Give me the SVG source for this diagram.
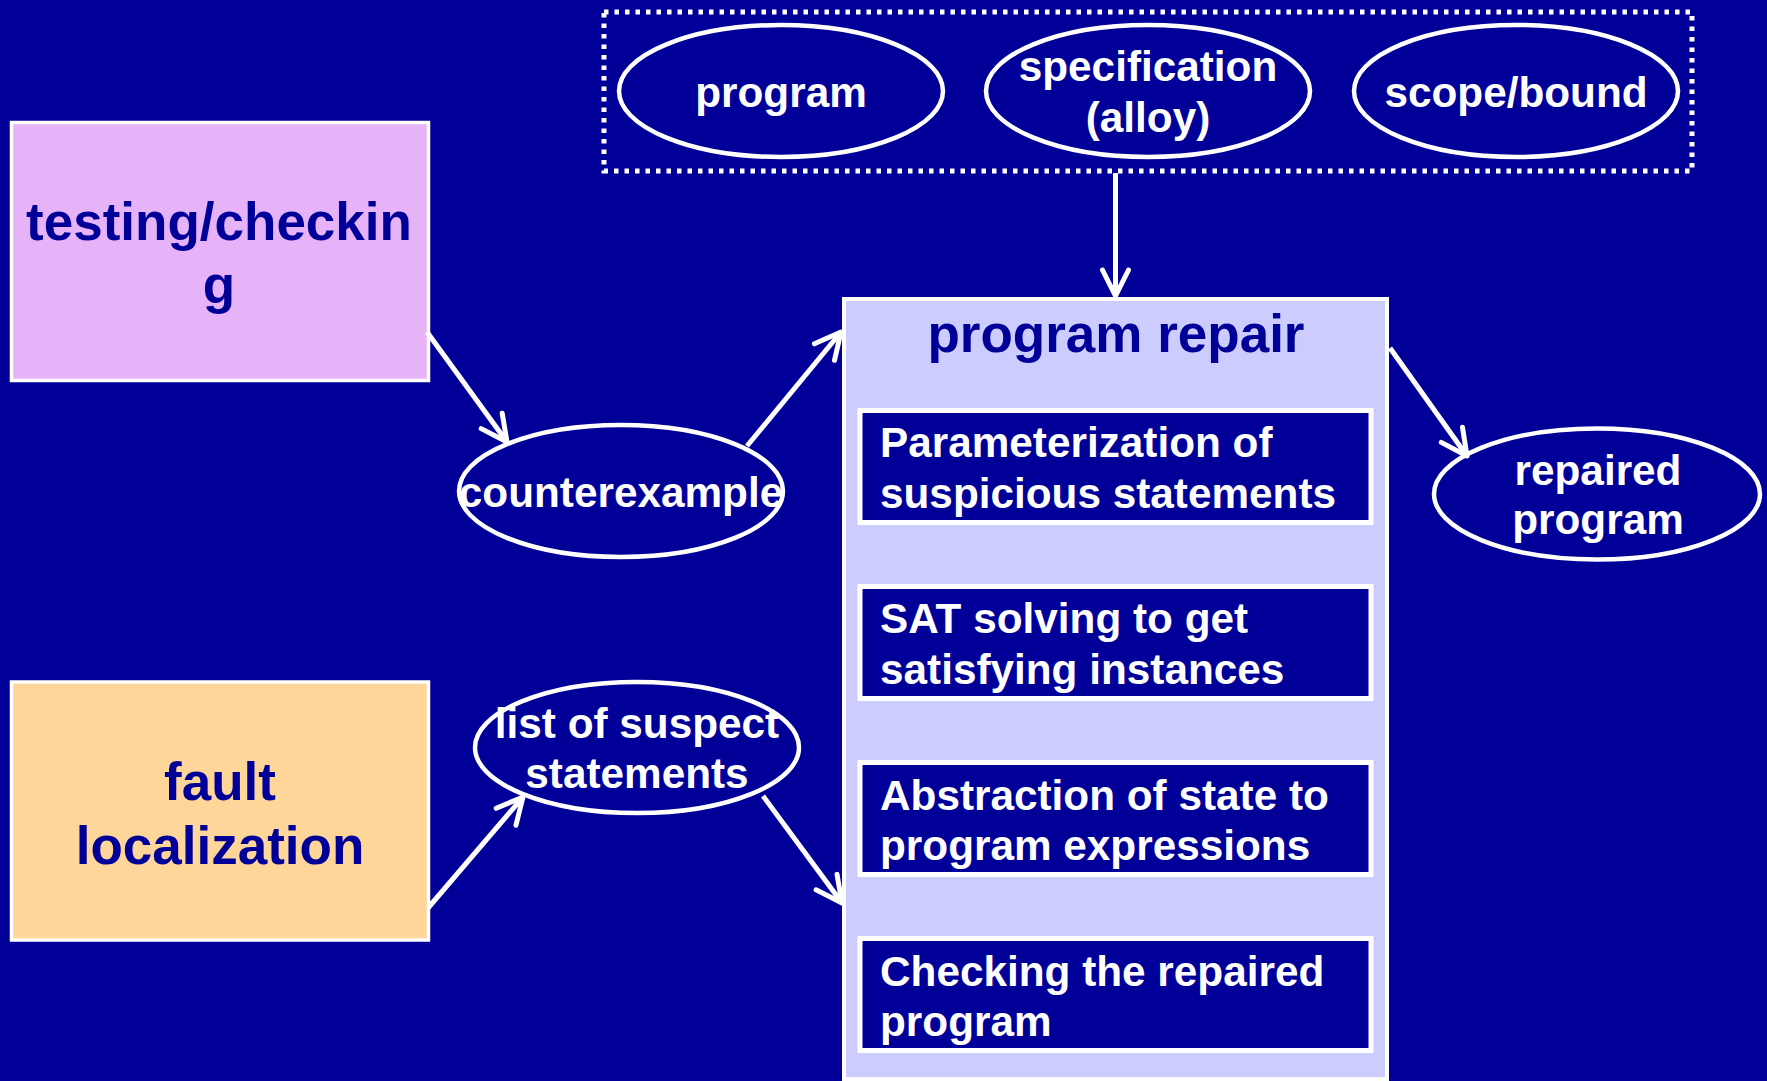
<svg xmlns="http://www.w3.org/2000/svg" width="1767" height="1081" viewBox="0 0 1767 1081">
<style>
text{font-family:"Liberation Sans",Arial,sans-serif;font-weight:bold}
.w{fill:#ffffff;font-size:42.3px}
.d{fill:#000099;font-size:53px}
.c{text-anchor:middle}
.ell{fill:#000099;stroke:#ffffff;stroke-width:4.5}
.sub{fill:#000099;stroke:#ffffff;stroke-width:5}
.conn{stroke:#ffffff;stroke-width:5;fill:none;marker-end:url(#arr)}
</style>
<defs>
<marker id="arr" markerUnits="userSpaceOnUse" markerWidth="70" markerHeight="70" viewBox="-35 -35 70 70" refX="0" refY="0" orient="auto">
<path d="M-26,-13 L0,0 L-26,13" fill="none" stroke="#ffffff" stroke-width="5" stroke-linecap="round" stroke-linejoin="round"/>
</marker>
</defs>
<rect x="0" y="0" width="1767" height="1081" fill="#000099"/>

<g id="inputs">
<rect x="604" y="12" width="1088" height="159" fill="none" stroke="#ffffff" stroke-width="5" stroke-dasharray="4.5 6"/>
</g>
<g id="program">
<ellipse class="ell" cx="781" cy="91" rx="162" ry="66"/>
<text class="w c" x="781" y="107">program</text>
</g>
<g id="specification">
<ellipse class="ell" cx="1148" cy="91" rx="162" ry="66"/>
<text class="w c" x="1148" y="81">specification</text>
<text class="w c" x="1148" y="132">(alloy)</text>
</g>
<g id="scope">
<ellipse class="ell" cx="1516" cy="91" rx="162" ry="66"/>
<text class="w c" x="1516" y="107">scope/bound</text>
</g>

<g id="testing">
<rect x="11.5" y="122.5" width="417" height="258" fill="#E6B3F9" stroke="#ffffff" stroke-width="3.5"/>
<text class="d c" x="219" y="240">testing/checkin</text>
<text class="d c" x="219" y="303">g</text>
</g>

<g id="fault">
<rect x="11.5" y="682" width="417" height="258" fill="#FFD699" stroke="#ffffff" stroke-width="3.5"/>
<text class="d c" x="220" y="800">fault</text>
<text class="d c" x="220" y="864">localization</text>
</g>

<g id="counterexample">
<ellipse class="ell" cx="621" cy="491" rx="162" ry="66"/>
<text class="w c" x="621" y="507">counterexample</text>
</g>

<g id="suspects">
<ellipse class="ell" cx="637" cy="747.5" rx="162" ry="65.5"/>
<text class="w c" x="637" y="738">list of suspect</text>
<text class="w c" x="637" y="788">statements</text>
</g>

<g id="repair">
<rect x="844" y="299" width="543" height="780" fill="#CCCCFF" stroke="#ffffff" stroke-width="4"/>
<text class="d c" x="1116" y="352">program repair</text>
<rect class="sub" x="860" y="410.5" width="511" height="112"/>
<text class="w" x="880" y="457">Parameterization of</text>
<text class="w" x="880" y="508">suspicious statements</text>
<rect class="sub" x="860" y="586.5" width="511" height="112"/>
<text class="w" x="880" y="633">SAT solving to get</text>
<text class="w" x="880" y="684">satisfying instances</text>
<rect class="sub" x="860" y="762.5" width="511" height="112"/>
<text class="w" x="880" y="810">Abstraction of state to</text>
<text class="w" x="880" y="860">program expressions</text>
<rect class="sub" x="860" y="938.5" width="511" height="112"/>
<text class="w" x="880" y="986">Checking the repaired</text>
<text class="w" x="880" y="1036">program</text>
</g>

<g id="repaired">
<ellipse class="ell" cx="1597" cy="494" rx="163" ry="65.5"/>
<text class="w c" x="1598" y="485">repaired</text>
<text class="w c" x="1598" y="534">program</text>
</g>

<g id="connectors">
<line class="conn" x1="1115.5" y1="173" x2="1115.5" y2="296"/>
<line class="conn" x1="427" y1="332" x2="507" y2="442"/>
<line class="conn" x1="747" y1="446" x2="841" y2="332"/>
<line class="conn" x1="1390" y1="348" x2="1467" y2="456"/>
<line class="conn" x1="428" y1="908" x2="523" y2="797"/>
<line class="conn" x1="763" y1="796" x2="842" y2="903"/>
</g>
</svg>
